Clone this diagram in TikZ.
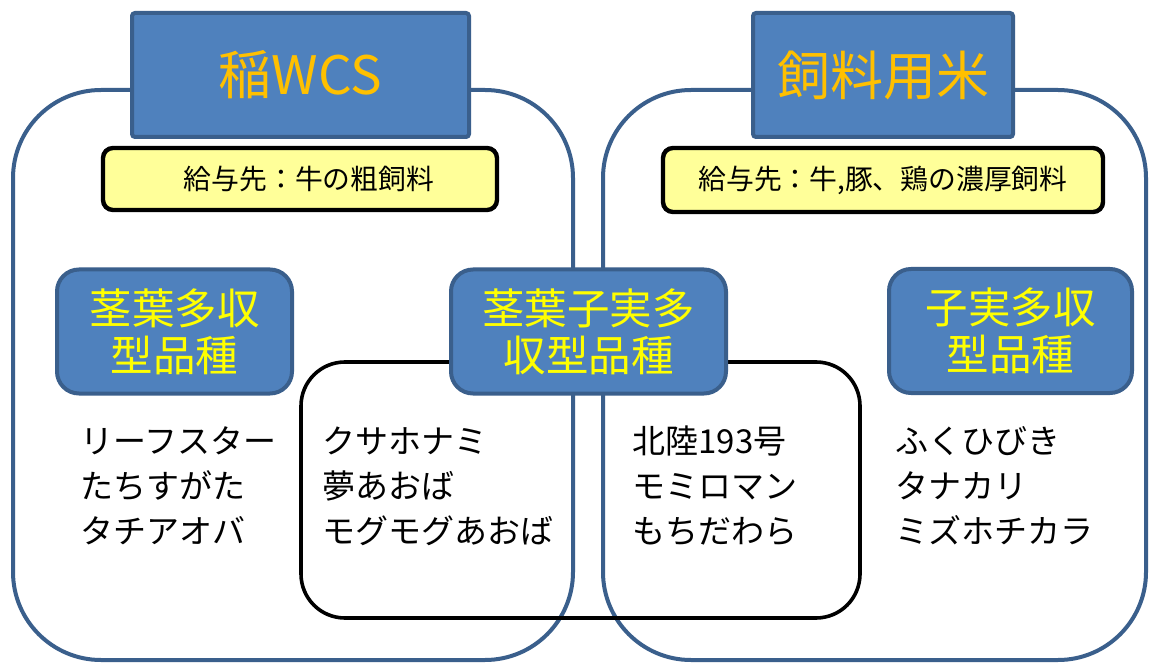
\documentclass[tikz,border=0pt]{standalone}
\usepackage{fontspec}
\setmainfont{Noto Sans CJK JP}
\definecolor{boxblue}{HTML}{4F81BD}
\definecolor{edgeblue}{HTML}{3A5F8C}
\definecolor{paleyellow}{HTML}{FFFF99}
\definecolor{titlegold}{HTML}{FFC000}
\definecolor{catyellow}{HTML}{FFFF00}
\begin{document}
\begin{tikzpicture}[x=0.5pt,y=-0.5pt,
  groupbox/.style={draw=edgeblue,line width=2pt,rounded corners=44pt,inner sep=0pt},
  midbox/.style={draw=black,line width=1.8pt,rounded corners=22pt,inner sep=0pt},
  titlebox/.style={draw=edgeblue,fill=boxblue,line width=2pt,rounded corners=1.5pt,inner sep=0pt,
    minimum height=62pt,text=titlegold,font=\fontsize{26.5}{30}\selectfont},
  feedbox/.style={draw=black,fill=paleyellow,line width=2.2pt,rounded corners=5pt,inner sep=0pt,
    font=\fontsize{13.9}{16}\selectfont},
  catbox/.style={draw=edgeblue,fill=boxblue,line width=2pt,rounded corners=11pt,inner sep=0pt,
    minimum height=62pt,text=catyellow,align=center,font=\fontsize{21.25}{23.5}\selectfont},
  listtext/.style={anchor=west,align=left,inner sep=0pt,font=\fontsize{16.5}{22.5}\selectfont}]
\useasboundingbox[fill=white] (0,0) rectangle (1151,663);
% group outlines
\node[groupbox,minimum width=280pt,minimum height=285pt] (bigL) at (293,375) {};
\node[groupbox,minimum width=271.5pt,minimum height=285pt] (bigR) at (874.5,375) {};
% shared black box
\node[midbox,minimum width=279.5pt,minimum height=128pt] (mid) at (580.5,490) {};
% titles
\node[titlebox,minimum width=168.5pt] (titleL) at (300.5,75) {稲WCS};
\node[titlebox,minimum width=130pt] (titleR) at (883,75) {飼料用米};
% feed boxes
\node[feedbox,minimum width=197pt,minimum height=31pt] (feedL) at (300,179) {\hspace*{9pt}給与先：牛の粗飼料};
\node[feedbox,minimum width=220pt,minimum height=32pt] (feedR) at (883,180) {給与先：牛,豚、鶏の濃厚飼料};
% category boxes
\node[catbox,minimum width=117.5pt] (catL) at (174.5,331.5) {茎葉多収\\型品種};
\node[catbox,minimum width=137.5pt] (catM) at (588.5,331.5) {茎葉子実多\\収型品種};
\node[catbox,minimum width=121.5pt] (catR) at (1010.5,331) {子実多収\\型品種};
% variety lists
\node[listtext] (listL) at (80,486) {リーフスター\\たちすがた\\タチアオバ};
\node[listtext] (listML) at (322,486) {クサホナミ\\夢あおば\\モグモグあおば};
\node[listtext] (listMR) at (632,486) {北陸193号\\モミロマン\\もちだわら};
\node[listtext] (listR) at (895,486) {ふくひびき\\タナカリ\\ミズホチカラ};
\end{tikzpicture}
\end{document}
